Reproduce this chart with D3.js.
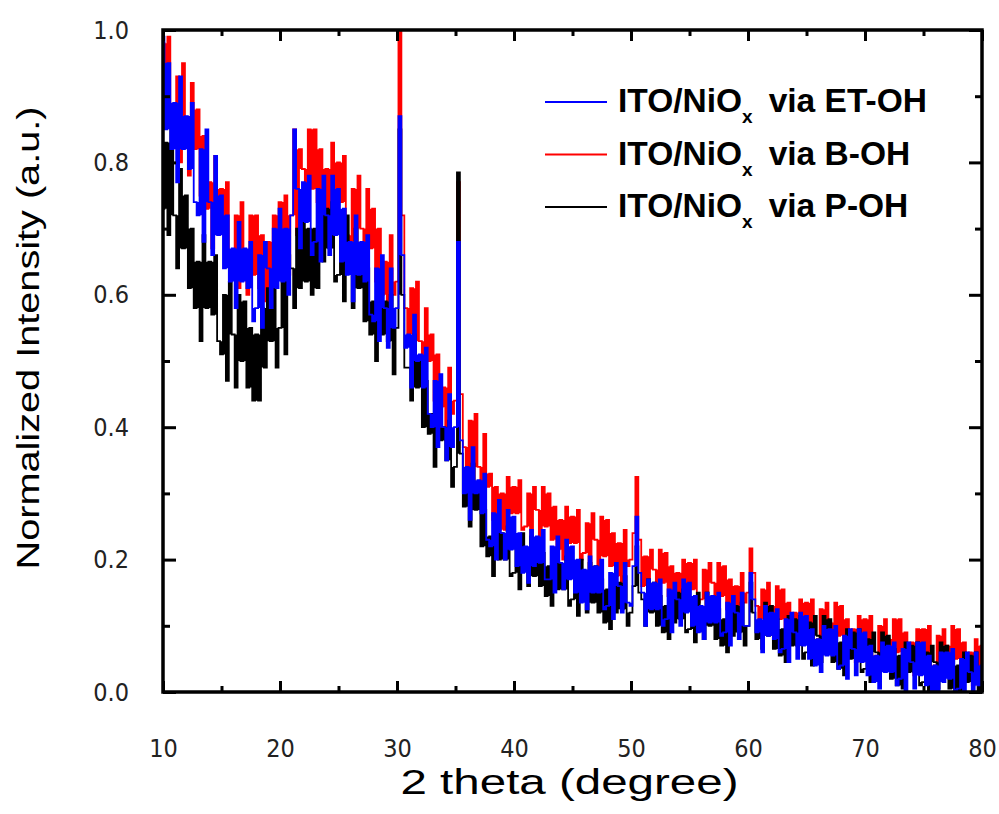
<!DOCTYPE html>
<html>
<head>
<meta charset="utf-8">
<script src="https://cdn.jsdelivr.net/npm/d3@7"></script>
<style>
  body { margin: 0; background: #fff; }
  text { font-family: "Liberation Sans", Arial, sans-serif; }
</style>
</head>
<body>
<svg id="chart" width="999" height="814"></svg>
<script>
// sampling of the scan (degrees)
var thetaStart = 10, thetaStep = 0.25;

// normalized intensities, one value per 0.25 degree, 10 -> 80
var etOH = [
  .99,.85,.95,.82, .89,.77,.93,.82, .87,.79,.89,.74, .72,.82,.68,.85, .74,.66,.81,.69,
  .75,.64,.72,.62, .67,.58,.71,.62, .67,.61,.68,.56, .58,.66,.55,.68, .64,.58,.70,.61,
  .73,.62,.70,.60, .72,.85,.76,.67, .77,.71,.78,.66, .68,.76,.65,.78, .72,.66,.78,.69,
  .76,.65,.73,.63, .68,.59,.72,.63, .68,.62,.69,.57, .56,.64,.53,.66, .58,.52,.64,.55,
  .58,.87,.66,.52, .54,.46,.57,.50, .51,.46,.52,.42, .40,.47,.37,.48, .40,.35,.45,.37,
  .40,.68,.38,.30, .34,.26,.37,.30, .32,.27,.33,.23, .22,.27,.20,.29, .24,.20,.275,.215,
  .265,.19,.24,.18, .22,.165,.245,.19, .235,.195,.245,.17, .17,.22,.15,.235, .195,.155,.23,.17,
  .22,.15,.20,.135, .185,.125,.205,.15, .19,.15,.20,.125, .13,.18,.11,.195, .16,.12,.195,.135,
  .13,.19,.265,.18, .15,.10,.17,.125, .165,.125,.17,.10, .11,.155,.09,.165, .14,.10,.17,.12,
  .165,.10,.145,.09, .13,.08,.15,.105, .145,.105,.15,.085, .09,.135,.07,.145, .12,.08,.15,.10,
  .10,.18,.14,.09, .11,.06,.13,.085, .12,.08,.125,.06, .065,.11,.045,.12, .09,.05,.12,.07,
  .115,.05,.095,.04, .08,.03,.10,.055, .095,.055,.10,.035, .04,.085,.02,.095, .065,.025,.095,.045,
  .09,.025,.07,.015, .055,.005,.075,.03, .07,.03,.075,.01, .02,.065,0,.075, .045,.005,.075,.025,
  .075,.01,.055,0, .04,-.01,.06,.015, .06,.02,.065,0, .005,.05,-.015,.06, .03,-.01,.06,.01,
  .04
];
var bOH = [
  .98,.90,.99,.86, .84,.93,.80,.95, .86,.78,.92,.82, .88,.75,.84,.73, .77,.67,.81,.72,
  .76,.70,.77,.65, .64,.72,.61,.74, .66,.60,.72,.63, .72,.61,.69,.59, .68,.59,.72,.63,
  .74,.68,.75,.63, .72,.85,.69,.82, .79,.73,.85,.76, .85,.74,.82,.72, .79,.70,.83,.74,
  .80,.74,.81,.69, .68,.76,.65,.78, .70,.64,.76,.67, .73,.62,.70,.60, .65,.56,.69,.60,
  .62,1.0,.72,.58, .54,.61,.51,.62, .53,.48,.58,.50, .54,.44,.51,.43, .46,.38,.49,.42,
  .44,.77,.45,.37, .34,.41,.31,.42, .34,.29,.39,.31, .33,.26,.31,.245, .30,.245,.325,.27,
  .31,.27,.32,.245, .25,.30,.225,.31, .275,.235,.31,.25, .30,.23,.28,.215, .26,.20,.28,.225,
  .265,.225,.275,.20, .21,.255,.185,.27, .23,.19,.265,.205, .26,.19,.24,.175, .225,.165,.245,.19,
  .20,.24,.325,.23, .16,.205,.14,.215, .185,.145,.215,.165, .21,.145,.19,.135, .18,.13,.20,.155,
  .195,.155,.20,.135, .14,.185,.12,.195, .165,.125,.195,.145, .19,.125,.17,.115, .16,.11,.18,.135,
  .15,.217,.18,.13, .11,.155,.09,.165, .13,.09,.16,.11, .155,.09,.135,.08, .12,.07,.14,.095,
  .135,.095,.14,.075, .08,.125,.06,.135, .105,.065,.135,.085, .13,.065,.11,.055, .095,.045,.115,.07,
  .11,.07,.115,.05, .055,.10,.035,.11, .08,.04,.11,.06, .11,.045,.09,.035, .075,.025,.095,.05,
  .095,.055,.10,.035, .04,.085,.02,.095, .07,.03,.10,.05, .095,.03,.075,.02, .06,.01,.08,.035,
  .07
];
var pOH = [
  .73,.83,.69,.86, .72,.64,.79,.67, .75,.61,.70,.58, .65,.53,.69,.58, .65,.57,.66,.53,
  .51,.60,.47,.62, .54,.46,.60,.50, .59,.46,.55,.44, .54,.44,.58,.49, .61,.53,.62,.49,
  .55,.64,.51,.66, .64,.58,.70,.61, .73,.62,.70,.60, .70,.61,.74,.65, .73,.67,.74,.62,
  .63,.70,.59,.72, .64,.58,.70,.61, .67,.56,.64,.54, .59,.50,.63,.54, .59,.53,.60,.48,
  .55,.85,.60,.49, .49,.44,.54,.46, .50,.40,.47,.39, .42,.34,.45,.38, .40,.35,.41,.31,
  .34,.785,.36,.28, .30,.25,.345,.275, .30,.22,.275,.205, .235,.175,.255,.20, .24,.20,.25,.175,
  .18,.225,.155,.24, .20,.16,.235,.175, .23,.16,.21,.145, .19,.13,.21,.155, .195,.155,.205,.13,
  .14,.185,.115,.20, .16,.12,.195,.135, .19,.12,.17,.105, .155,.095,.175,.12, .165,.125,.175,.10,
  .12,.16,.22,.15, .14,.10,.17,.12, .165,.10,.145,.09, .13,.08,.15,.105, .15,.11,.155,.09,
  .095,.14,.075,.15, .12,.08,.15,.10, .145,.08,.125,.07, .11,.06,.13,.085, .13,.09,.135,.07,
  .10,.165,.12,.08, .105,.065,.135,.085, .13,.065,.11,.055, .095,.045,.115,.07, .11,.07,.115,.05,
  .06,.105,.04,.115, .085,.045,.115,.065, .11,.045,.09,.035, .075,.025,.095,.05, .09,.05,.095,.03,
  .035,.08,.015,.09, .06,.02,.09,.04, .085,.02,.065,.01, .055,.005,.075,.03, .07,.03,.075,.01,
  .015,.06,-.005,.07, .045,.005,.075,.025, .07,.005,.05,-.005, .04,-.01,.06,.015, .055,.015,.06,-.005,
  .03
];

var xTicks = [10, 20, 30, 40, 50, 60, 70, 80];
var xMinor = [15, 25, 35, 45, 55, 65, 75];
var yTicks = [0.0, 0.2, 0.4, 0.6, 0.8, 1.0];
var yMinor = [0.1, 0.3, 0.5, 0.7, 0.9];

var legendNames = ["ET-OH", "B-OH", "P-OH"];
var legendColours = ["#0000ff", "#ff0000", "#000000"];

function drawChart() {
  var svg = d3.select("#chart");
  var plotLeft = 163, plotRight = 982, plotTop = 30, plotBottom = 692;

  var x = d3.scaleLinear().domain([10, 80]).range([plotLeft, plotRight]);
  var y = d3.scaleLinear().domain([0, 1]).range([plotBottom, plotTop]);

  svg.append("defs").append("clipPath").attr("id", "plotclip")
    .append("rect").attr("x", plotLeft).attr("y", plotTop)
    .attr("width", plotRight - plotLeft).attr("height", plotBottom - plotTop);

  // each point carries the local core of the noise (median of its neighbours),
  // used to fill the band solidly without widening the sharp peaks
  function toPoints(vals) {
    return vals.map(function(v, i) {
      var med = d3.median(vals.slice(Math.max(0, i - 1), i + 2));
      return { t: thetaStart + i * thetaStep, v: v, hi: Math.max(v, med), lo: Math.min(v, med) };
    });
  }

  var line = d3.line()
    .curve(d3.curveStep)
    .x(function(d) { return x(d.t); })
    .y(function(d) { return y(d.v); });

  var band = d3.area()
    .curve(d3.curveStep)
    .x(function(d) { return x(d.t); })
    .y0(function(d) { return y(d.lo); })
    .y1(function(d) { return y(d.hi); });

  // red first, black over it, blue on top
  var drawOrder = [[bOH, "#ff0000"], [pOH, "#000000"], [etOH, "#0000ff"]];
  var traces = svg.append("g").attr("clip-path", "url(#plotclip)");
  drawOrder.forEach(function(s) {
    var pts = toPoints(s[0]);
    traces.append("path")
      .attr("d", band(pts))
      .attr("fill", s[1]);
    traces.append("path")
      .attr("d", line(pts))
      .attr("fill", "none")
      .attr("stroke", s[1])
      .attr("stroke-width", 1.8);
  });

  // axes, ticks pointing inward
  var tickFont = '"Liberation Sans Narrow", "Arial Narrow", "DejaVu Sans Condensed", "Liberation Sans", sans-serif';

  function styleAxis(g) {
    g.select(".domain").remove();
    g.selectAll("line").attr("stroke", "#000").attr("stroke-width", 3);
    g.selectAll("text").attr("fill", "#222").style("font-family", tickFont).style("font-size", "25px");
  }

  svg.append("g").attr("transform", "translate(0," + plotBottom + ")")
    .call(d3.axisBottom(x).tickValues(xTicks).tickSize(-11).tickPadding(47).tickFormat(d3.format("d")))
    .call(styleAxis);
  svg.append("g").attr("transform", "translate(0," + plotBottom + ")")
    .call(d3.axisBottom(x).tickValues(xMinor).tickSize(-6).tickFormat(""))
    .call(styleAxis);
  svg.append("g").attr("transform", "translate(0," + plotTop + ")")
    .call(d3.axisTop(x).tickValues(xTicks).tickSize(-11).tickFormat(""))
    .call(styleAxis);
  svg.append("g").attr("transform", "translate(0," + plotTop + ")")
    .call(d3.axisTop(x).tickValues(xMinor).tickSize(-6).tickFormat(""))
    .call(styleAxis);

  svg.append("g").attr("transform", "translate(" + plotLeft + ",0)")
    .call(d3.axisLeft(y).tickValues(yTicks).tickSize(-13).tickPadding(34).tickFormat(d3.format(".1f")))
    .call(styleAxis);
  svg.append("g").attr("transform", "translate(" + plotLeft + ",0)")
    .call(d3.axisLeft(y).tickValues(yMinor).tickSize(-7).tickFormat(""))
    .call(styleAxis);
  svg.append("g").attr("transform", "translate(" + plotRight + ",0)")
    .call(d3.axisRight(y).tickValues(yTicks).tickSize(-13).tickFormat(""))
    .call(styleAxis);
  svg.append("g").attr("transform", "translate(" + plotRight + ",0)")
    .call(d3.axisRight(y).tickValues(yMinor).tickSize(-7).tickFormat(""))
    .call(styleAxis);

  // frame
  svg.append("rect")
    .attr("x", plotLeft).attr("y", plotTop)
    .attr("width", plotRight - plotLeft).attr("height", plotBottom - plotTop)
    .attr("fill", "none").attr("stroke", "#000").attr("stroke-width", 3.5);

  // axis titles
  svg.append("text")
    .attr("x", (plotLeft + plotRight) / 2 - 3).attr("y", 794)
    .attr("text-anchor", "middle")
    .attr("textLength", 338).attr("lengthAdjust", "spacingAndGlyphs")
    .style("font-size", "35px").attr("fill", "#000")
    .text("2 theta (degree)");

  svg.append("text")
    .attr("transform", "translate(39,338) rotate(-90)")
    .attr("text-anchor", "middle")
    .attr("textLength", 463).attr("lengthAdjust", "spacingAndGlyphs")
    .style("font-size", "32px").attr("fill", "#000")
    .text("Normalized Intensity (a.u.)");

  // legend
  var legend = svg.append("g");
  legendNames.forEach(function(name, i) {
    var ly = 102 + i * 52.5;
    legend.append("line")
      .attr("x1", 545).attr("x2", 607)
      .attr("y1", ly).attr("y2", ly)
      .attr("stroke", legendColours[i]).attr("stroke-width", 2);
    var t = legend.append("text")
      .attr("x", 618).attr("y", ly + 10)
      .style("font-size", "33.5px").style("font-weight", "bold").attr("fill", "#000");
    t.append("tspan").text("ITO/NiO");
    t.append("tspan").attr("dy", 11).style("font-size", "19px").text("x");
    t.append("tspan").attr("dy", -11).attr("dx", 16).text("via " + name);
  });
}

drawChart();
</script>
</body>
</html>
